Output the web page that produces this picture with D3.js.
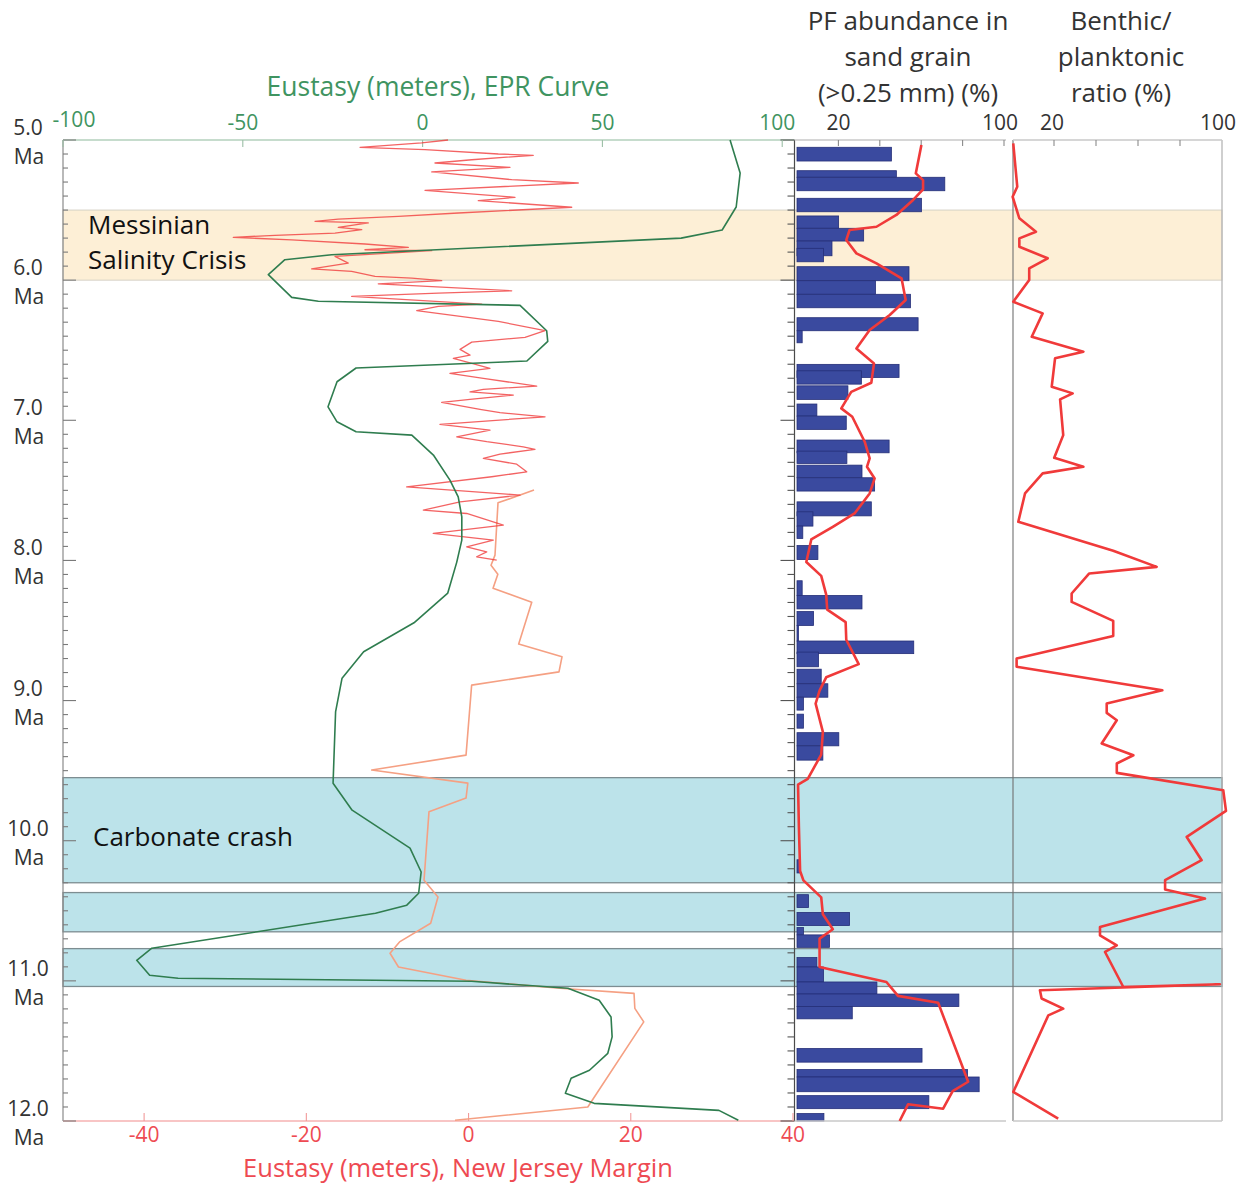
<!DOCTYPE html>
<html>
<head>
<meta charset="utf-8">
<script src="https://cdn.jsdelivr.net/npm/d3@7"></script>
<style>
  body { margin: 0; background: #fff; }
  svg { display: block; font-family: "Open Sans", "Noto Sans", sans-serif; }
</style>
</head>
<body>
<svg id="chart" width="1250" height="1185"></svg>
<script>
// ---------------- data ----------------
// Age axis (Ma)
const ageMajor = [5, 6, 7, 8, 9, 10, 11, 12];
const ageLabels = ["5.0", "6.0", "7.0", "8.0", "9.0", "10.0", "11.0", "12.0"];

// Event intervals (Ma)
const mscBand = [5.5, 6.0];
const crashBands = [[9.55, 10.30], [10.37, 10.65], [10.77, 11.04]];

// Eustasy, EPR curve (m)
const eprAge = [5.00, 5.236, 5.478, 5.642, 5.70, 5.819, 5.854, 5.961, 6.123, 6.151, 6.180, 6.361, 6.437, 6.577, 6.627, 6.725, 6.904, 7.011, 7.082, 7.106, 7.248, 7.427, 7.546, 7.689, 7.855, 8.012, 8.233, 8.445, 8.652, 8.840, 9.081, 9.590, 9.782, 10.053, 10.223, 10.375, 10.460, 10.518, 10.767, 10.853, 10.960, 10.981, 11.003, 11.053, 11.138, 11.258, 11.400, 11.517, 11.638, 11.695, 11.802, 11.874, 11.924, 11.995];
const eprValue = [85.5, 88.3, 87.2, 83.3, 71.9, -25.3, -38.3, -42.9, -36.4, -29.0, 27.1, 34.5, 34.8, 29.0, -18.5, -23.8, -26.3, -23.8, -18.5, -3.0, 3.0, 7.6, 9.9, 10.9, 10.9, 9.5, 7.0, -2.4, -16.4, -22.4, -24.2, -24.9, -19.6, -3.5, -0.4, -1.1, -4.4, -13.1, -75.3, -79.5, -75.9, -68.0, 13.6, 40.4, 49.1, 52.4, 52.7, 51.5, 46.4, 41.3, 39.7, 47.7, 82.4, 87.8];

// Eustasy, New Jersey margin (m), low resolution
const njAge = [7.498, 7.589, 7.962, 8.034, 8.098, 8.198, 8.298, 8.597, 8.688, 8.795, 8.890, 9.389, 9.496, 9.589, 9.696, 9.794, 10.282, 10.401, 10.589, 10.722, 10.803, 10.901, 10.996, 11.053, 11.089, 11.196, 11.293, 11.900, 11.995];
const njValue = [8.07, 3.63, 3.26, 2.77, 3.61, 3.02, 7.79, 6.18, 11.52, 11.15, 0.38, -0.31, -11.94, -0.09, -0.31, -4.88, -5.49, -3.77, -4.67, -8.51, -9.68, -8.64, -0.31, 11.27, 20.4, 20.5, 21.6, 14.7, -1.67];

// Eustasy, New Jersey margin (m), high resolution
const hiresAge = [5.000, 5.021, 5.052, 5.069, 5.100, 5.109, 5.141, 5.164, 5.195, 5.228, 5.283, 5.307, 5.359, 5.409, 5.433, 5.480, 5.521, 5.545, 5.564, 5.580, 5.592, 5.623, 5.640, 5.664, 5.680, 5.695, 5.712, 5.742, 5.766, 5.783, 5.790, 5.830, 5.878, 5.919, 5.937, 5.973, 5.985, 6.004, 6.026, 6.076, 6.092, 6.116, 6.171, 6.187, 6.218, 6.294, 6.361, 6.408, 6.442, 6.494, 6.535, 6.558, 6.590, 6.630, 6.665, 6.701, 6.756, 6.779, 6.797, 6.820, 6.851, 6.872, 6.922, 6.946, 6.975, 7.029, 7.070, 7.118, 7.153, 7.189, 7.208, 7.241, 7.272, 7.313, 7.368, 7.403, 7.475, 7.534, 7.582, 7.641, 7.665, 7.748, 7.807, 7.855, 7.903, 7.939, 7.974, 7.998];
const hiresValue = [-2.53, -5.78, -13.38, -5.37, 3.67, 7.98, 0.39, -4.14, 5.11, -4.54, 5.32, 13.53, -5.37, 5.73, 1.20, 12.72, -1.26, -8.66, -16.06, -18.93, -12.36, -16.06, -13.17, -16.47, -23.86, -29.0, -21.80, -12.77, -7.43, -12.77, -4.54, -16.47, -14.83, -19.34, -14.41, -11.53, -7.01, -3.31, -11.13, 5.32, -3.73, -14.41, 1.62, -3.73, -6.39, 3.67, 9.43, 6.96, 0.39, -1.05, 0.18, -1.88, 0.18, 2.64, -2.29, 1.82, 8.40, 1.82, 0.18, 5.52, 0.18, -3.31, 1.41, 3.88, 9.43, -3.52, 2.64, -1.46, 2.24, 6.75, 8.19, 3.88, 1.82, 5.94, 7.17, 2.85, -7.63, 6.34, -1.05, -5.58, -0.23, 4.29, -4.35, 3.05, -0.23, 2.24, 1.0, 3.47];

// PF abundance in sand grain (%), sample intervals
const pfTop = [5.052, 5.219, 5.266, 5.416, 5.542, 5.630, 5.721, 5.773, 5.904, 6.004, 6.101, 6.268, 6.361, 6.601, 6.647, 6.754, 6.884, 6.970, 7.141, 7.220, 7.320, 7.410, 7.582, 7.653, 7.755, 7.894, 8.145, 8.250, 8.365, 8.464, 8.575, 8.654, 8.776, 8.880, 8.976, 9.097, 9.229, 9.323, 10.136, 10.385, 10.512, 10.619, 10.672, 10.834, 10.901, 11.008, 11.094, 11.183, 11.483, 11.633, 11.686, 11.819, 11.947];
const pfBase = [5.150, 5.266, 5.362, 5.512, 5.630, 5.721, 5.826, 5.869, 6.004, 6.101, 6.197, 6.361, 6.447, 6.694, 6.742, 6.851, 6.970, 7.065, 7.232, 7.308, 7.410, 7.505, 7.682, 7.755, 7.843, 7.994, 8.250, 8.346, 8.464, 8.575, 8.665, 8.759, 8.880, 8.976, 9.068, 9.197, 9.323, 9.425, 10.230, 10.477, 10.605, 10.672, 10.761, 10.901, 11.008, 11.094, 11.183, 11.271, 11.580, 11.686, 11.791, 11.912, 12.0];
const pfValue = [45.6, 48.0, 71.4, 60.1, 20.1, 32.2, 16.9, 12.8, 54.1, 37.9, 54.8, 58.5, 2.5, 49.3, 31.1, 24.6, 9.6, 23.8, 44.5, 24.1, 31.4, 37.5, 35.9, 7.7, 2.8, 10.1, 2.5, 31.4, 8.0, 0.7, 56.4, 10.4, 11.7, 14.9, 3.1, 3.1, 20.2, 12.5, 1.5, 5.6, 25.4, 3.1, 15.7, 9.6, 12.8, 38.6, 78.2, 26.7, 60.4, 82.4, 88.0, 63.7, 13.0];

// PF abundance trend line (%)
const pfLineAge = [5.036, 5.238, 5.286, 5.352, 5.428, 5.535, 5.619, 5.642, 5.714, 5.809, 5.880, 5.987, 6.142, 6.249, 6.356, 6.487, 6.594, 6.732, 6.797, 6.915, 6.975, 7.153, 7.272, 7.332, 7.415, 7.522, 7.665, 7.760, 7.850, 8.011, 8.110, 8.244, 8.351, 8.440, 8.566, 8.740, 8.834, 8.929, 9.022, 9.223, 9.385, 9.559, 9.600, 9.894, 10.216, 10.283, 10.404, 10.525, 10.632, 10.699, 10.901, 11.008, 11.107, 11.156, 11.720, 11.787, 11.912, 11.880, 12.0];
const pfLineValue = [60.1, 57.4, 60.9, 60.9, 56.1, 48.0, 38.4, 25.4, 23.8, 28.7, 38.4, 50.5, 52.5, 44.8, 35.1, 28.7, 37.2, 35.9, 26.2, 21.4, 26.7, 32.7, 35.1, 33.8, 37.5, 35.1, 27.8, 17.3, 6.9, 4.5, 11.7, 14.1, 14.6, 23.5, 23.8, 29.8, 14.1, 10.9, 9.0, 12.5, 11.7, 5.2, 0.5, 0.9, 1.5, 3.1, 11.7, 12.5, 17.3, 10.9, 10.9, 43.2, 48.8, 68.2, 82.7, 75.2, 70.6, 53.7, 49.6];

// Benthic / planktonic ratio (%)
const bpAge = [5.024, 5.333, 5.405, 5.559, 5.655, 5.702, 5.762, 5.844, 5.916, 5.999, 6.154, 6.237, 6.404, 6.511, 6.558, 6.761, 6.808, 6.851, 7.106, 7.268, 7.332, 7.379, 7.522, 7.724, 7.931, 8.046, 8.093, 8.236, 8.296, 8.431, 8.540, 8.700, 8.759, 8.926, 9.021, 9.088, 9.140, 9.306, 9.390, 9.449, 9.516, 9.640, 9.787, 9.973, 10.139, 10.282, 10.348, 10.413, 10.615, 10.675, 10.746, 10.794, 11.044, 11.024, 11.067, 11.126, 11.198, 11.246, 11.793, 11.983];
const bpValue = [0.6, 2.5, 0.3, 3.5, 11.4, 3.5, 3.5, 17.0, 8.2, 8.2, 0.6, 14.6, 9.4, 34.0, 20.5, 18.9, 28.9, 22.9, 24.4, 20.1, 34.0, 14.6, 6.2, 3.0, 48.2, 68.9, 36.8, 28.4, 28.4, 48.2, 48.2, 2.2, 2.2, 71.6, 45.1, 45.1, 49.9, 42.7, 57.8, 49.9, 49.9, 100.6, 101.9, 83.2, 90.3, 72.9, 72.9, 91.9, 41.9, 41.9, 49.9, 44.3, 53.0, 99.0, 13.3, 14.1, 24.4, 17.3, 0.6, 22.0];

// Axis ticks
const eprTicks = [-100, -50, 0, 50, 100];
const njTicks = [-40, -20, 0, 20, 40];
const pctTicks = [20, 40, 60, 80, 100];
const pctLabels = [20, 100];

// ---------------- layout ----------------
const svg = d3.select("#chart");
const y = d3.scaleLinear().domain([5, 12]).range([140, 1121]);
const xEPR = d3.scaleLinear().domain([-100, 103]).range([63, 793]);
const xNJ = d3.scaleLinear().domain([-50, 40]).range([63, 793]);
const xPF = d3.scaleLinear().domain([0, 100]).range([797, 1004]);
const xBP = d3.scaleLinear().domain([0, 100]).range([1012, 1222]);

const xLeft = 63, pfAxis = 794.5, pfRight = 1006, bpLeft = 1013, bpRight = 1222;
const yTop = y(5), yBottom = y(12);

const GREEN = "#3f9461", RED = "#ee4a52", TXT = "#333";

// ---------------- event bands ----------------
const bands = svg.append("g");
bands.append("rect")
  .attr("x", xLeft).attr("width", bpRight - xLeft)
  .attr("y", y(mscBand[0])).attr("height", y(mscBand[1]) - y(mscBand[0]))
  .attr("fill", "#fdefd6").attr("stroke", "#d6d1c6").attr("stroke-width", 1);
bands.selectAll("rect.crash").data(crashBands).join("rect")
  .attr("class", "crash")
  .attr("x", xLeft).attr("width", bpRight - xLeft)
  .attr("y", d => y(d[0])).attr("height", d => y(d[1]) - y(d[0]))
  .attr("fill", "#bce3ea").attr("stroke", "#7d8d91").attr("stroke-width", 1.3);

// ---------------- PF bars ----------------
const pfRows = pfValue.map((v, i) => ({ v, t: pfTop[i], b: pfBase[i] }));
svg.append("g").selectAll("rect").data(pfRows).join("rect")
  .attr("x", xPF(0))
  .attr("width", d => Math.max(0.8, xPF(d.v) - xPF(0)))
  .attr("y", d => y(d.t))
  .attr("height", d => y(d.b) - y(d.t))
  .attr("fill", "#3a4a9f").attr("stroke", "#252f78").attr("stroke-width", 0.8);

// ---------------- frames ----------------
const frame = svg.append("g").attr("fill", "none");
const seg = (x1, y1, x2, y2, color, w) =>
  frame.append("line").attr("x1", x1).attr("y1", y1).attr("x2", x2).attr("y2", y2)
    .attr("stroke", color).attr("stroke-width", w);
seg(xLeft, yTop, xLeft, yBottom, "#8a8a8a", 1.2);
seg(xLeft, yTop, pfAxis, yTop, "#b3d1bd", 1.5);
seg(xLeft, yBottom, pfAxis, yBottom, "#f6b2b2", 1.5);
seg(pfAxis, yTop, pfAxis, yBottom, "#4a4a4a", 1.2);
seg(pfAxis, yTop, pfRight, yTop, "#c8c8c8", 1.3);
seg(pfAxis, yBottom, pfRight, yBottom, "#c8c8c8", 1.3);
seg(bpLeft, yTop, bpLeft, yBottom, "#707070", 1.1);
seg(bpRight, yTop, bpRight, yBottom, "#b5b5b5", 1.3);
seg(bpLeft, yTop, bpRight, yTop, "#c8c8c8", 1.3);
seg(bpLeft, yBottom, bpRight, yBottom, "#c8c8c8", 1.3);

// ---------------- age ticks ----------------
const ageTicks = d3.range(50, 121).map(k => k / 10);
const isMajor = a => Math.abs(a - Math.round(a)) < 1e-6;
const tk = svg.append("g").attr("stroke-width", 1.1);
tk.selectAll("line.l").data(ageTicks).join("line").attr("class", "l")
  .attr("x1", xLeft).attr("x2", a => xLeft + (isMajor(a) ? 13 : 5))
  .attr("y1", a => y(a)).attr("y2", a => y(a))
  .attr("stroke", "#7a7a7a");
tk.selectAll("line.r").data(ageTicks).join("line").attr("class", "r")
  .attr("x1", pfAxis).attr("x2", a => pfAxis - (isMajor(a) ? 14 : 7))
  .attr("y1", a => y(a)).attr("y2", a => y(a))
  .attr("stroke", "#555");

// top / bottom ticks
svg.append("g").selectAll("line").data(eprTicks).join("line")
  .attr("x1", d => xEPR(d)).attr("x2", d => xEPR(d)).attr("y1", yTop).attr("y2", yTop + 7)
  .attr("stroke", "#9bbfa6").attr("stroke-width", 1.1);
svg.append("g").selectAll("line").data(njTicks).join("line")
  .attr("x1", d => xNJ(d)).attr("x2", d => xNJ(d)).attr("y1", yBottom).attr("y2", yBottom - 8)
  .attr("stroke", "#f29a9a").attr("stroke-width", 1.1);
svg.append("g").selectAll("line").data(pctTicks).join("line")
  .attr("x1", d => xPF(d)).attr("x2", d => xPF(d)).attr("y1", yTop).attr("y2", yTop + 6)
  .attr("stroke", "#8a8a8a").attr("stroke-width", 1.1);
svg.append("g").selectAll("line").data(pctTicks.slice(0, 4)).join("line")
  .attr("x1", d => xBP(d)).attr("x2", d => xBP(d)).attr("y1", yTop).attr("y2", yTop + 6)
  .attr("stroke", "#8a8a8a").attr("stroke-width", 1.1);

// ---------------- curves ----------------
const lineOf = (xs, ages, vals) => d3.line().x((d, i) => xs(vals[i])).y((d, i) => y(ages[i]))(ages);

svg.append("path").attr("d", lineOf(xNJ, njAge, njValue))
  .attr("fill", "none").attr("stroke", "#f5a083").attr("stroke-width", 1.6).attr("stroke-linejoin", "round");
svg.append("path").attr("d", lineOf(xNJ, hiresAge, hiresValue))
  .attr("fill", "none").attr("stroke", "#f03c3c").attr("stroke-opacity", 0.8)
  .attr("stroke-width", 1.3).attr("stroke-linejoin", "round");
svg.append("path").attr("d", lineOf(xEPR, eprAge, eprValue))
  .attr("fill", "none").attr("stroke", "#2f7d4f").attr("stroke-width", 1.6).attr("stroke-linejoin", "round");

svg.append("path").attr("d", lineOf(xPF, pfLineAge, pfLineValue))
  .attr("fill", "none").attr("stroke", "#f03a3a").attr("stroke-width", 2.6).attr("stroke-linejoin", "round");
svg.append("path").attr("d", lineOf(xBP, bpAge, bpValue))
  .attr("fill", "none").attr("stroke", "#f03a3a").attr("stroke-width", 2.6).attr("stroke-linejoin", "round");

// ---------------- text ----------------
const T = svg.append("g");

// age labels
ageMajor.forEach((a, i) => {
  T.append("text").attr("x", 28).attr("y", y(a) - 5).attr("text-anchor", "middle")
    .attr("font-size", 21).attr("fill", TXT).text(ageLabels[i]);
  T.append("text").attr("x", 29).attr("y", y(a) + 24).attr("text-anchor", "middle")
    .attr("font-size", 21).attr("fill", TXT).text("Ma");
});

// EPR tick labels (top)
T.selectAll("text.epr").data(eprTicks).join("text").attr("class", "epr")
  .attr("x", (d, i) => xEPR(d) + (i === 0 ? 11 : i === eprTicks.length - 1 ? -5 : 0))
  .attr("y", (d, i) => i === 0 ? 127 : 130).attr("text-anchor", "middle").attr("font-size", 21).attr("fill", GREEN)
  .text(d => d);
// NJ tick labels (bottom)
T.selectAll("text.nj").data(njTicks).join("text").attr("class", "nj")
  .attr("x", d => xNJ(d)).attr("y", 1142).attr("text-anchor", "middle")
  .attr("font-size", 21).attr("fill", RED).text(d => d);
// percent axes
T.selectAll("text.pf").data(pctLabels).join("text").attr("class", "pf")
  .attr("x", d => xPF(d) + (d === 100 ? -4 : 0)).attr("y", 130).attr("text-anchor", "middle")
  .attr("font-size", 21).attr("fill", TXT).text(d => d);
T.selectAll("text.bp").data(pctLabels).join("text").attr("class", "bp")
  .attr("x", d => xBP(d) + (d === 100 ? -4 : -2)).attr("y", 130).attr("text-anchor", "middle")
  .attr("font-size", 21).attr("fill", TXT).text(d => d);

// axis titles
T.append("text").attr("x", 438).attr("y", 96).attr("text-anchor", "middle")
  .attr("font-size", 26.5).attr("fill", GREEN).text("Eustasy (meters), EPR Curve");
T.append("text").attr("x", 458).attr("y", 1177).attr("text-anchor", "middle")
  .attr("font-size", 25.5).attr("fill", RED).text("Eustasy (meters), New Jersey Margin");
["PF abundance in", "sand grain", "(>0.25 mm) (%)"].forEach((s, i) => {
  T.append("text").attr("x", 908).attr("y", 30 + i * 36).attr("text-anchor", "middle")
    .attr("font-size", 26).attr("fill", TXT).text(s);
});
["Benthic/", "planktonic", "ratio (%)"].forEach((s, i) => {
  T.append("text").attr("x", 1121).attr("y", 30 + i * 36).attr("text-anchor", "middle")
    .attr("font-size", 26).attr("fill", TXT).text(s);
});

// event labels
T.append("text").attr("x", 88).attr("y", 234).attr("font-size", 26).attr("fill", "#111").text("Messinian");
T.append("text").attr("x", 88).attr("y", 269).attr("font-size", 26).attr("fill", "#111").text("Salinity Crisis");
T.append("text").attr("x", 93).attr("y", 846).attr("font-size", 26).attr("fill", "#111").text("Carbonate crash");
</script>
</body>
</html>
